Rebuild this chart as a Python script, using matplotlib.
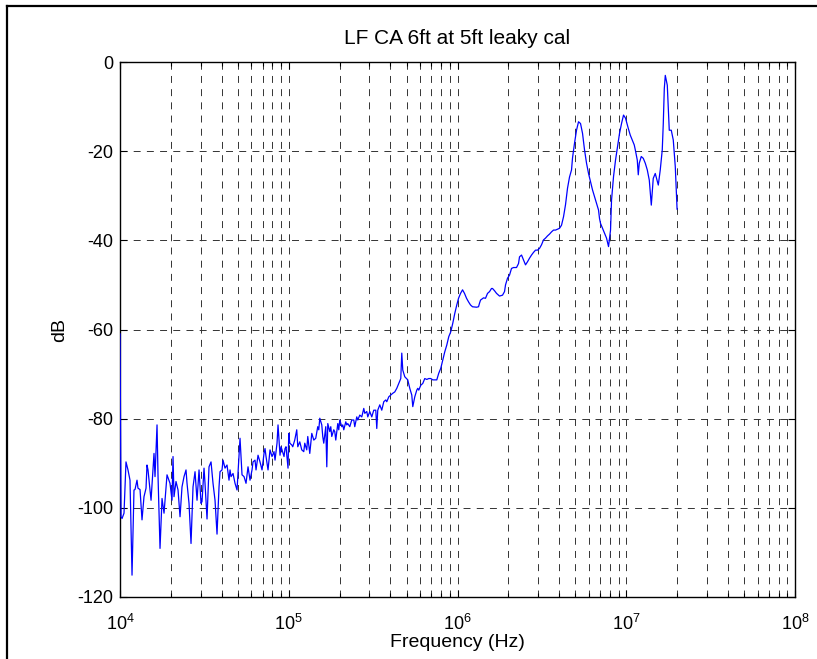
import matplotlib
matplotlib.use('Agg')
import matplotlib.pyplot as plt
from matplotlib.lines import Line2D
import numpy as np

plt.rcParams['font.family'] = ['Liberation Sans', 'DejaVu Sans']
plt.rcParams['lines.scale_dashes'] = False
plt.rcParams['axes.unicode_minus'] = False
plt.rcParams['mathtext.fontset'] = 'custom'
plt.rcParams['mathtext.rm'] = 'Liberation Sans'

# frequency in kHz, level in dB
freq_khz = [
    10.0, 10.14, 10.28, 10.56, 10.85, 11.15, 11.46, 11.78, 12.1, 12.27, 12.61, 12.78,
    13.14, 13.5, 13.87, 14.26, 14.45, 14.65, 15.27, 15.9, 16.12, 16.57, 16.8, 17.26,
    17.74, 18.23, 18.99, 19.78, 20.33, 20.61, 20.89, 21.47, 22.07, 22.68, 23.3, 23.95,
    24.61, 24.95, 25.64, 26.35, 27.08, 27.83, 28.6, 29.39, 30.2, 30.62, 31.46, 31.89,
    32.78, 33.68, 34.62, 35.57, 36.56, 37.57, 38.61, 39.14, 40.22, 40.77, 41.9, 43.06,
    44.25, 44.86, 45.48, 46.74, 48.03, 49.36, 51.42, 52.84, 54.31, 55.81, 57.35, 58.94,
    60.57, 61.4, 63.1, 63.97, 65.74, 67.55, 69.42, 71.34, 72.32, 73.32, 75.35, 76.38,
    77.43, 79.57, 81.78, 82.9, 85.19, 86.36, 88.75, 89.97, 91.21, 93.73, 95.02, 96.32,
    98.99,
    100, 101.4, 104.2, 105.6, 108.5, 111.5, 113.1, 116.2, 119.4, 122.7, 124.4, 127.8,
    129.6, 133.2, 136.9, 140.7, 144.5, 148.5, 150.6, 152.7, 156.9, 159.0, 161.2, 165.7,
    168.0, 170.3, 175.0, 177.4, 179.8, 184.8, 187.3, 189.9, 195.2, 197.8, 200.6, 206.1,
    208.9, 211.8, 217.7, 220.7, 223.7, 229.9, 236.2, 242.8, 246.1, 252.9, 256.4, 263.5,
    270.8, 278.3, 282.1, 289.9, 293.9, 302.0, 310.4, 318.9, 327.8, 332.3, 336.8, 346.2,
    355.7, 365.6, 375.7, 380.9, 391.4, 402.2, 413.4, 424.8, 436.5, 448.6, 461.0, 467.4,
    473.8, 486.9, 507.2, 521.3, 535.7, 543.1, 558.1, 573.5, 581.4, 589.4, 605.7, 622.4,
    639.7, 657.4, 675.5, 694.2, 713.4, 733.2, 753.5, 774.3, 795.7, 817.8, 840.4, 863.6,
    887.5, 912.1, 937.3, 963.2, 989.9,
    1014, 1042, 1071, 1100, 1131, 1162, 1194, 1227, 1296, 1332, 1350, 1369,
    1426, 1465, 1506, 1548, 1590, 1612, 1657, 1703, 1774, 1848, 1899, 1925,
    1978, 2033, 2089, 2147, 2237, 2299, 2330, 2395, 2461, 2529, 2599, 2671,
    2745, 2821, 2899, 2979, 3062, 3146, 3233, 3323, 3415, 3509, 3606, 3706,
    3809, 3914, 4022, 4134, 4248, 4365, 4486, 4610, 4738, 4803, 4936, 5072,
    5213, 5357, 5505, 5657, 5814, 5975, 6140, 6310, 6485, 6664, 6848, 6942,
    7038, 7232, 7433, 7638, 7850, 8067, 8178, 8404, 8636, 8875, 9121, 9373,
    9632, 9899,
    10280, 10560, 10850, 11150, 11310, 11620, 11780, 11940, 12270, 12610, 12960, 13320,
    13690, 14070, 14450, 14850, 15270, 15480, 15900, 16340, 16570, 16800, 17030, 17500,
    17980, 18480, 18990, 19520, 20000,
]

level_db = [
    -61.0, -102.0, -102.4, -101.2, -89.7, -91.5, -93.8, -115.1, -96.0, -95.9, -93.8, -95.6,
    -95.9, -102.7, -97.5, -95.6, -90.4, -91.5, -98.3, -87.8, -93.0, -81.4, -93.0, -109.1,
    -97.9, -101.2, -92.6, -94.5, -98.3, -88.5, -97.5, -94.1, -96.0, -102.0, -95.3, -93.0,
    -91.5, -94.5, -99.0, -108.0, -95.3, -91.9, -98.3, -91.5, -99.0, -98.6, -91.1, -94.5,
    -102.5, -90.8, -89.7, -94.5, -98.3, -105.9, -95.3, -91.9, -91.5, -89.3, -91.1, -90.4,
    -93.8, -91.5, -93.0, -92.3, -94.5, -96.0, -84.4, -92.6, -93.0, -94.5, -90.8, -93.8,
    -91.5, -89.7, -89.3, -91.5, -88.2, -89.7, -91.5, -87.8, -86.7, -88.5, -91.5, -89.3,
    -87.0, -88.5, -87.4, -89.3, -85.5, -81.4, -88.2, -86.3, -87.0, -88.5, -86.7, -86.3,
    -91.1,
    -83.3, -85.5, -85.9, -86.3, -84.8, -82.5, -86.3, -85.2, -87.0, -87.4, -85.5, -87.0,
    -84.0, -87.8, -83.3, -84.8, -84.4, -81.8, -82.5, -79.9, -81.4, -84.0, -85.5, -81.8,
    -90.8, -81.1, -82.9, -81.8, -84.0, -82.5, -82.9, -84.8, -81.1, -82.5, -80.3, -81.8,
    -81.4, -82.5, -80.7, -81.4, -81.1, -81.8, -80.3, -80.3, -81.8, -79.6, -80.3, -79.2,
    -79.6, -77.7, -78.8, -78.4, -79.6, -78.4, -79.6, -78.1, -78.1, -82.2, -78.1, -76.9,
    -78.1, -76.2, -75.8, -76.2, -75.1, -74.7, -74.3, -74.0, -73.2, -72.1, -71.0, -65.3,
    -69.1, -70.6, -71.3, -73.2, -74.7, -77.3, -75.1, -73.6, -73.2, -73.6, -72.5, -72.1,
    -71.0, -71.2, -71.0, -71.0, -71.3, -71.3, -71.3, -69.8, -68.7, -66.8, -65.0, -63.5,
    -61.6, -60.5, -58.6, -56.4, -54.5,
    -53.0, -51.9, -51.1, -51.9, -53.0, -53.8, -54.5, -54.9, -55.0, -54.9, -54.1, -53.4,
    -52.9, -53.0, -51.9, -51.5, -50.8, -50.8, -51.3, -51.9, -52.5, -52.3, -51.5, -50.0,
    -48.5, -47.8, -46.3, -46.1, -46.1, -45.2, -43.7, -43.3, -44.4, -45.5, -44.8, -44.0,
    -43.3, -42.7, -42.2, -42.2, -41.8, -41.0, -39.9, -39.5, -39.0, -38.6, -38.1, -37.7,
    -37.7, -37.5, -37.3, -36.6, -34.7, -32.0, -28.3, -25.8, -24.2, -21.5, -18.2, -15.3,
    -13.4, -13.8, -16.0, -19.7, -22.7, -25.0, -26.8, -28.7, -30.2, -31.7, -33.2, -35.1,
    -36.2, -37.3, -38.4, -39.5, -41.4, -37.7, -31.0, -25.7, -22.0, -19.0, -16.0, -13.8,
    -11.9, -12.6,
    -14.9, -16.4, -17.5, -18.6, -19.7, -22.0, -25.3, -22.7, -21.2, -21.6, -22.7, -24.2,
    -26.5, -32.1, -26.1, -25.0, -26.8, -27.6, -24.2, -19.7, -13.8, -6.0, -3.0, -5.2,
    -15.3, -15.3, -17.5, -23.5, -33.0,
]

freq_hz = np.array(freq_khz) * 1e3
y_ticks = [-120, -100, -80, -60, -40, -20, 0]

fig = plt.figure(figsize=(8.17, 6.59), dpi=100)
ax = fig.add_axes([0.1469, 0.0941, 0.8262, 0.8118])

ax.semilogx(freq_hz, level_db, color='blue', linewidth=0.9, zorder=3)

ax.set_xlim(1e4, 1e8)
ax.set_ylim(-120, 0)
ax.set_yticks(y_ticks)

ax.grid(True, which='major', color='0.2', linestyle=(0, (5, 4.5)), linewidth=0.7)
ax.grid(True, which='minor', axis='x', color='0.2', linestyle=(0, (5, 4.5)), linewidth=0.7)

ax.tick_params(which='both', direction='in', top=True, right=True, labelsize=13)
ax.tick_params(which='major', length=5, width=0.8)
ax.tick_params(which='minor', length=3, width=0.8)
ax.tick_params(axis='x', which='major', pad=12)
ax.tick_params(axis='y', which='major', pad=5)
for sp in ax.spines.values():
    sp.set_linewidth(1.0)

ax.set_title('LF CA 6ft at 5ft leaky cal', fontsize=15, pad=13)
ax.set_xlabel('Frequency (Hz)', fontsize=14, labelpad=0)
ax.set_ylabel('dB', fontsize=14, labelpad=6)

# screenshot frame on left and top
fig.add_artist(Line2D([0.008, 0.008], [0.0, 0.991], transform=fig.transFigure, color='black', linewidth=1.6))
fig.add_artist(Line2D([0.008, 1.0], [0.991, 0.991], transform=fig.transFigure, color='black', linewidth=1.6))

fig.savefig('out.png', dpi=100)
